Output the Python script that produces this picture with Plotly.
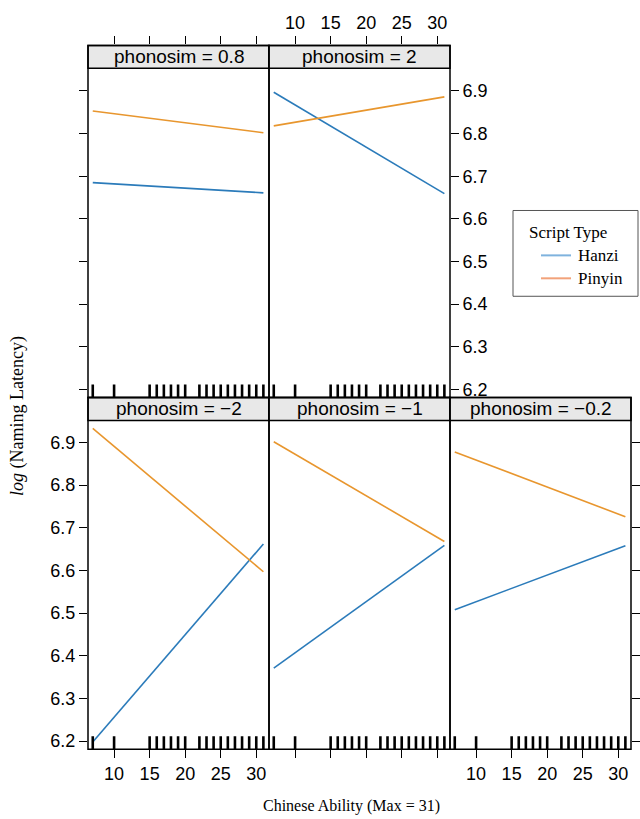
import plotly.graph_objects as go

W, H = 640, 819

# ---- data ----
phonosim_labels = ["phonosim = \u22122", "phonosim = \u22121", "phonosim = \u22120.2",
                   "phonosim = 0.8", "phonosim = 2"]
ability_ends = [7, 31]
hanzi_start = [6.198, 6.371, 6.508, 6.685, 6.897]
hanzi_end = [6.662, 6.659, 6.658, 6.661, 6.659]
pinyin_start = [6.933, 6.902, 6.878, 6.853, 6.818]
pinyin_end = [6.597, 6.668, 6.726, 6.802, 6.886]
rug_values = [7, 10, 15, 16, 17, 18, 19, 20, 22, 23, 24, 25, 26, 27, 28, 29, 30, 31]
x_ticks = [10, 15, 20, 25, 30]
y_ticks = [6.2, 6.3, 6.4, 6.5, 6.6, 6.7, 6.8, 6.9]
series_names = ["Hanzi", "Pinyin"]

HANZI_COLOR = "#2b7bba"
PINYIN_COLOR = "#e8962e"
LEGEND_COLORS = ["#7fb3de", "#f2a27a"]

# ---- layout geometry (pixels) ----
col_x0 = [88, 269, 450]
col_x1 = [269, 450, 631]
rows = {"top": (45.5, 68.5, 398.5), "bottom": (398.5, 421.5, 751)}
panel_pos = [(0, "bottom"), (1, "bottom"), (2, "bottom"), (0, "top"), (1, "top")]

Y0 = 6.181
PPU = 427.5  # pixels per y unit
XR = [6.33, 31.79]

fig = go.Figure()

def py(v):
    return 1 - v / H

def px(v):
    return v / W

TICKFONT = dict(family="Liberation Sans, Arial", size=18, color="black")
SERIF = "Liberation Serif, Times New Roman"

shapes = []
annotations = []

for i, (c, r) in enumerate(panel_pos):
    n = i + 1
    xa = "x" if n == 1 else f"x{n}"
    ya = "y" if n == 1 else f"y{n}"
    top, sbot, pbot = rows[r]
    yr = [Y0, Y0 + (pbot - top) / PPU]

    fig.add_trace(go.Scatter(x=ability_ends, y=[hanzi_start[i], hanzi_end[i]], mode="lines",
                             line=dict(color=HANZI_COLOR, width=1.6), name="Hanzi",
                             showlegend=False, xaxis=xa, yaxis=ya))
    fig.add_trace(go.Scatter(x=ability_ends, y=[pinyin_start[i], pinyin_end[i]], mode="lines",
                             line=dict(color=PINYIN_COLOR, width=1.6), name="Pinyin",
                             showlegend=False, xaxis=xa, yaxis=ya))
    rx, ry = [], []
    h = 13 / PPU
    for v in rug_values:
        rx += [v, v, None]
        ry += [yr[0], yr[0] + h, None]
    fig.add_trace(go.Scatter(x=rx, y=ry, mode="lines", line=dict(color="black", width=2.6),
                             showlegend=False, hoverinfo="skip", xaxis=xa, yaxis=ya))

    if r == "top":
        xside, xlabels = "top", (c == 1)
    else:
        xside, xlabels = "bottom", (c != 1)
    xcfg = dict(domain=[px(col_x0[c]), px(col_x1[c])], range=XR, anchor=ya, side=xside,
                showline=False, ticks="outside", ticklen=8, tickwidth=1.3, tickcolor="black",
                tickvals=x_ticks, showticklabels=xlabels, tickfont=TICKFONT,
                showgrid=False, zeroline=False, fixedrange=True)
    if (c, r) == (0, "top"):
        yside, yticks_on, ylabels = "left", True, False
    elif (c, r) == (1, "top"):
        yside, yticks_on, ylabels = "right", True, True
    elif (c, r) == (0, "bottom"):
        yside, yticks_on, ylabels = "left", True, True
    elif (c, r) == (2, "bottom"):
        yside, yticks_on, ylabels = "right", True, False
    else:
        yside, yticks_on, ylabels = "left", False, False
    ycfg = dict(domain=[py(pbot), py(top)], range=yr, anchor=xa, side=yside,
                showline=False, ticks="outside" if yticks_on else "", ticklen=8, tickwidth=1.3,
                tickcolor="black", tickvals=y_ticks, ticktext=[f"{v:.1f}" for v in y_ticks],
                showticklabels=ylabels, tickfont=TICKFONT,
                showgrid=False, zeroline=False, fixedrange=True)
    fig.update_layout({("xaxis" if n == 1 else f"xaxis{n}"): xcfg,
                       ("yaxis" if n == 1 else f"yaxis{n}"): ycfg})

    # strip
    shapes.append(dict(type="rect", xref="paper", yref="paper",
                       x0=px(col_x0[c]), x1=px(col_x1[c]), y0=py(sbot), y1=py(top),
                       fillcolor="#e8e8e8", line=dict(color="black", width=1.5), layer="above"))
    # panel border
    shapes.append(dict(type="rect", xref="paper", yref="paper",
                       x0=px(col_x0[c]), x1=px(col_x1[c]), y0=py(pbot), y1=py(top),
                       fillcolor="rgba(0,0,0,0)", line=dict(color="black", width=1.5), layer="above"))
    annotations.append(dict(xref="paper", yref="paper", x=px((col_x0[c] + col_x1[c]) / 2),
                            y=py((top + sbot) / 2), text=phonosim_labels[i], showarrow=False,
                            xanchor="center", yanchor="middle",
                            font=dict(family="Liberation Sans, Arial", size=19, color="black")))

# axis titles
annotations.append(dict(xref="paper", yref="paper", x=px(351), y=py(808),
                        text="Chinese Ability (Max = 31)", showarrow=False,
                        xanchor="center", yanchor="middle",
                        font=dict(family=SERIF, size=16, color="black")))
annotations.append(dict(xref="paper", yref="paper", x=px(18), y=py(417),
                        text="<i>log</i> (Naming Latency)", showarrow=False, textangle=-90,
                        xanchor="center", yanchor="middle",
                        font=dict(family=SERIF, size=18, color="black")))

# legend (drawn as a key box)
shapes.append(dict(type="rect", xref="paper", yref="paper",
                   x0=px(513), x1=px(638), y0=py(297), y1=py(211),
                   fillcolor="white", line=dict(color="#555555", width=1)))
annotations.append(dict(xref="paper", yref="paper", x=px(527), y=py(233),
                        text="Script Type", showarrow=False, xanchor="left", yanchor="middle",
                        font=dict(family=SERIF, size=17, color="black")))
for k, (nm, colr) in enumerate(zip(series_names, LEGEND_COLORS)):
    yy = 256 + k * 23
    shapes.append(dict(type="line", xref="paper", yref="paper",
                       x0=px(541), x1=px(571), y0=py(yy), y1=py(yy),
                       line=dict(color=colr, width=2)))
    annotations.append(dict(xref="paper", yref="paper", x=px(576), y=py(yy),
                            text=nm, showarrow=False, xanchor="left", yanchor="middle",
                            font=dict(family=SERIF, size=17, color="black")))

fig.update_layout(
    width=W, height=H, autosize=False,
    margin=dict(l=0, r=0, t=0, b=0),
    paper_bgcolor="white", plot_bgcolor="white",
    shapes=shapes, annotations=annotations,
    showlegend=False,
)

fig.write_html("out.html")
